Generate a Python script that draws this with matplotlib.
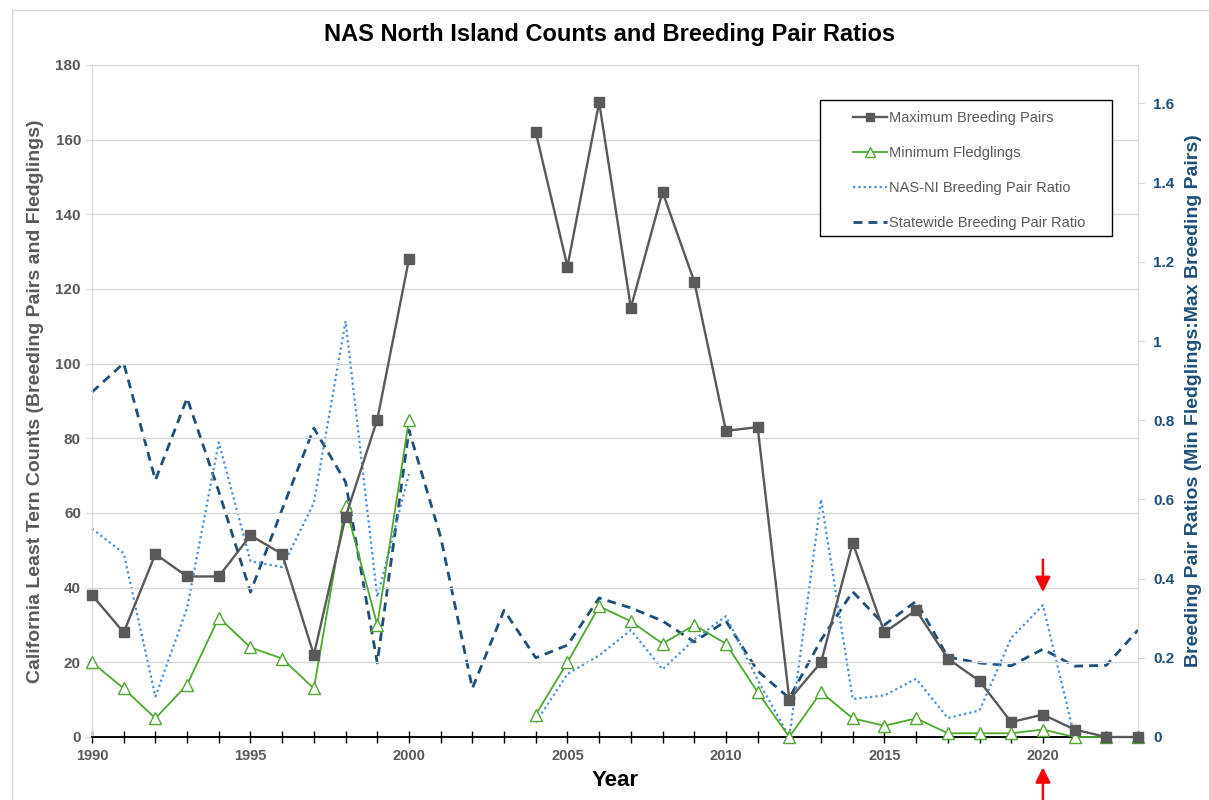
import numpy as np
import matplotlib
matplotlib.use("Agg")
import matplotlib.pyplot as plt
from matplotlib.patches import Rectangle
from matplotlib.lines import Line2D
from matplotlib.ticker import MultipleLocator, FixedLocator

plt.rcParams['font.family'] = ['Liberation Sans', 'DejaVu Sans']

nan = np.nan
years = list(range(1990, 2024))
max_pairs = [38, 28, 49, 43, 43, 54, 49, 22, 59, 85, 128, nan, nan, nan,
             162, 126, 170, 115, 146, 122, 82, 83, 10, 20, 52, 28, 34, 21,
             15, 4, 6, 2, 0, 0]
min_fledglings = [20, 13, 5, 14, 32, 24, 21, 13, 62, 30, 85, nan, nan, nan,
                  6, 20, 35, 31, 25, 30, 25, 12, 0, 12, 5, 3, 5, 1,
                  1, 1, 2, 0, 0, 0]
nasni_ratio = [0.526, 0.464, 0.102, 0.326, 0.744, 0.444, 0.429, 0.591, 1.05,
               0.353, 0.664, nan, nan, nan, 0.037, 0.159, 0.206, 0.27, 0.171,
               0.246, 0.305, 0.145, 0.0, 0.6, 0.096, 0.105, 0.147, 0.048,
               0.067, 0.25, 0.333, 0.0, nan, nan]
statewide_ratio = [0.871, 0.944, 0.649, 0.856, 0.62, 0.366, 0.575, 0.78, 0.644,
                   0.187, 0.775, 0.505, 0.123, 0.32, 0.2, 0.232, 0.351, 0.326,
                   0.293, 0.24, 0.293, 0.167, 0.098, 0.245, 0.367, 0.283,
                   0.343, 0.202, 0.187, 0.18, 0.222, 0.179, 0.181, 0.27]

W, H = 1209, 800
fig = plt.figure(figsize=(W / 100, H / 100), dpi=100)
L, R, T, B = 92, 1138, 65, 737
ax = fig.add_axes([L / W, 1 - B / H, (R - L) / W, (B - T) / H])
ax2 = ax.twinx()

grey = '#595959'
navy = '#1F4E79'
green = '#4EA72E'
lblue = '#4A90D9'
gridc = '#D9D9D9'

# chart area border
fig.patches.append(Rectangle((12 / W, -0.01), 1.2, 1 - 10 / H + 0.01, transform=fig.transFigure,
                             fill=False, edgecolor=gridc, linewidth=1.0, zorder=0))

ax.set_zorder(ax2.get_zorder() + 1)
ax.patch.set_visible(False)

ax2.plot(years, statewide_ratio, color=navy, linestyle=(0, (3.2, 2.2)), linewidth=2.0,
         label='Statewide Breeding Pair Ratio', zorder=2, clip_on=False)
ax2.plot(years, nasni_ratio, color=lblue, linestyle=(0, (1, 1.4)), linewidth=1.6,
         label='NAS-NI Breeding Pair Ratio', zorder=2, clip_on=False)
ax.plot(years, min_fledglings, color=green, linewidth=1.3, marker='^', markersize=8,
        markerfacecolor='white', markeredgecolor=green, markeredgewidth=1.0,
        label='Minimum Fledglings', zorder=3, clip_on=False)
ax.plot(years, max_pairs, color=grey, linewidth=1.7, marker='s', markersize=7,
        markerfacecolor=grey, markeredgecolor=grey, label='Maximum Breeding Pairs', zorder=4,
        clip_on=False)

ax.set_xlim(1990, 2023)
ax.set_ylim(0, 180)
ax2.set_ylim(0, 1.697)

ax.yaxis.set_major_locator(MultipleLocator(20))
ax.grid(axis='y', color=gridc, linewidth=1.0)
ax.set_axisbelow(True)
ax.xaxis.set_major_locator(MultipleLocator(5))
ax.xaxis.set_minor_locator(MultipleLocator(1))
ax.tick_params(axis='x', which='both', direction='inout', length=9, width=1.0, color='black',
               labelsize=10.5, labelcolor=grey, pad=4)
ax.tick_params(axis='y', direction='out', length=5, color=gridc, labelsize=11,
               labelcolor=grey, pad=3)
ax2.yaxis.set_major_locator(FixedLocator([0, 0.2, 0.4, 0.6, 0.8, 1.0, 1.2, 1.4, 1.6]))
ax2.set_yticklabels(['0', '0.2', '0.4', '0.6', '0.8', '1', '1.2', '1.4', '1.6'])
ax2.tick_params(axis='y', direction='out', length=5, color=gridc, labelsize=11,
                labelcolor=navy, pad=6)
for lab in ax.get_xticklabels() + ax.get_yticklabels() + ax2.get_yticklabels():
    lab.set_fontweight('bold')

for a in (ax, ax2):
    a.spines['top'].set_visible(False)
    a.spines['left'].set_color(gridc)
    a.spines['right'].set_color(gridc)
    a.spines['bottom'].set_color('black')
    a.spines['bottom'].set_linewidth(1.2)

ax.set_xlabel('Year', fontsize=16, fontweight='bold', color='black')
ax.xaxis.set_label_coords(0.5, -(770 - B) / (B - T), transform=ax.transAxes)
ax.set_ylabel('California Least Tern Counts (Breeding Pairs and Fledglings)', fontsize=14,
              fontweight='bold', color=grey, va='center')
ax.yaxis.set_label_coords(-(L - 36) / (R - L), 0.5, transform=ax.transAxes)
ax2.set_ylabel('Breeding Pair Ratios (Min Fledglings:Max Breeding Pairs)', fontsize=14,
               fontweight='bold', color=navy, va='center', rotation=90)
ax2.yaxis.set_label_coords(1 + (1194 - R) / (R - L), 0.5, transform=ax2.transAxes)

fig.text(0.5 + 5 / W, 1 - 34 / H, 'NAS North Island Counts and Breeding Pair Ratios', ha='center',
         va='center', fontsize=17, fontweight='bold', color='black')

# legend box
lx0, ly0, lx1, ly1 = 820, 100, 1112, 236
ax.add_patch(Rectangle(((lx0 - L) / (R - L), (B - ly1) / (B - T)), (lx1 - lx0) / (R - L),
                       (ly1 - ly0) / (B - T), transform=ax.transAxes, fill=True,
                       facecolor='white', edgecolor='black', linewidth=1.0, zorder=5))
handles = [
    Line2D([], [], color=grey, linewidth=1.7, marker='s', markersize=6),
    Line2D([], [], color=green, linewidth=1.3, marker='^', markersize=7,
           markerfacecolor='white', markeredgecolor=green),
    Line2D([], [], color=lblue, linestyle=(0, (1, 1.4)), linewidth=1.6),
    Line2D([], [], color=navy, linestyle=(0, (3.2, 2.2)), linewidth=2.0),
]
labels = ['Maximum Breeding Pairs', 'Minimum Fledglings', 'NAS-NI Breeding Pair Ratio',
          'Statewide Breeding Pair Ratio']
leg = ax.legend(handles, labels, loc='upper left',
                bbox_to_anchor=((853 - L) / (R - L), (B - 111) / (B - T)),
                frameon=False, fontsize=10.5, labelcolor=grey, handlelength=2.3,
                handletextpad=0.15, labelspacing=1.45, borderpad=0, borderaxespad=0)
leg.set_zorder(6)

# red arrows at 2020
ax.annotate('', xy=(2020, 38.8), xytext=(2020, 47.5),
            arrowprops=dict(arrowstyle='-|>,head_length=0.9,head_width=0.45', color='red',
                            lw=1.8, shrinkA=0, shrinkB=0), zorder=7)
ax.annotate('', xy=(2020, -0.045), xytext=(2020, -0.095), xycoords=ax.get_xaxis_transform(),
            textcoords=ax.get_xaxis_transform(),
            arrowprops=dict(arrowstyle='-|>,head_length=0.9,head_width=0.45', color='red',
                            lw=1.8, shrinkA=0, shrinkB=0), annotation_clip=False, zorder=7)

fig.savefig('out.png', dpi=100)
